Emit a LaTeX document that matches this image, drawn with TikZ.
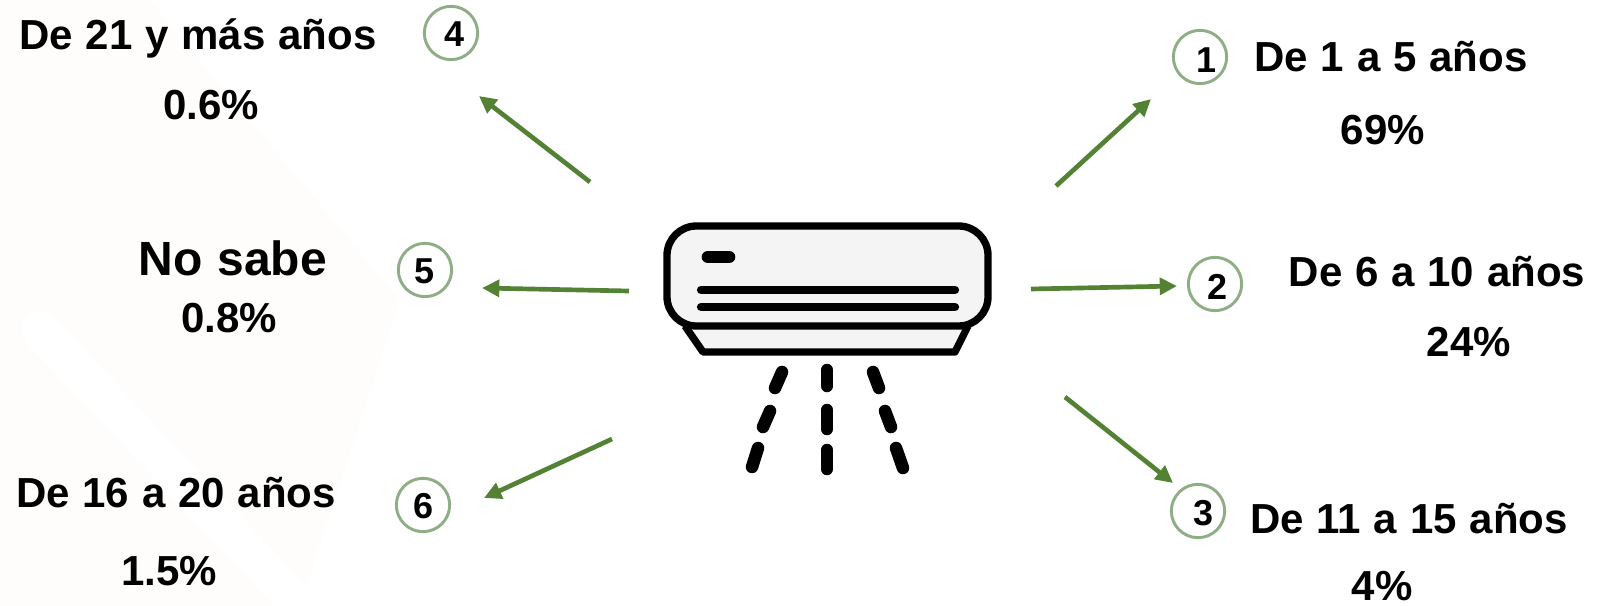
\documentclass[tikz,border=0pt]{standalone}
\usepackage{fontspec}
\setmainfont[WordSpace=1.1]{Liberation Sans}
\usetikzlibrary{arrows.meta}
\definecolor{leafgreen}{HTML}{548235}
\definecolor{ringgreen}{HTML}{8FAE85}
\definecolor{unitgray}{HTML}{F4F4F4}
\definecolor{faintcream}{HTML}{FEFDFB}
\tikzset{
  rangelabel/.style={font=\fontsize{31.5}{34}\selectfont\bfseries, inner sep=0pt, anchor=base},
  bigstyle/.style={font=\fontsize{36}{40}\selectfont\bfseries, inner sep=0pt, anchor=base},
  numring/.style={circle, draw=ringgreen, line width=2.2pt, minimum size=40pt, inner sep=0pt},
  numtext/.style={font=\fontsize{27}{28}\selectfont\bfseries, inner sep=0pt, anchor=base},
  spoke/.style={draw=leafgreen, line width=3.5pt, -{Triangle[length=13pt,width=12.5pt]}},
  unitline/.style={draw=black, line width=5.5pt, line join=round},
  slat/.style={draw=black, line width=6.2pt, line cap=round},
  airflow/.style={draw=black, line width=9.4pt, line cap=round}
}
\begin{document}
\begin{tikzpicture}[x=0.75pt, y=-0.75pt]
  \useasboundingbox (0,0) rectangle (1612,606);

  \fill[faintcream] (0,0) -- (150,0) -- (400,300) -- (300,606) -- (0,606) -- cycle;
  \draw[white, line width=28pt, line cap=round] (40,330) -- (300,606);

  \path[unitline, fill=unitgray] (685,326) -- (703,352) -- (955,352) -- (968,326);
  \path[unitline, fill=unitgray, rounded corners=22pt] (667,226) rectangle (988,326);
  \path[slat, line width=9.5pt] (708,257) -- (729,257);
  \path[slat] (701,290) -- (955,290);
  \path[slat] (701,307) -- (955,307);
  \path[airflow] (782,372) -- (775,388);
  \path[airflow] (770,411) -- (763,427);
  \path[airflow] (758,448) -- (752,467);
  \path[airflow] (827,370) -- (827,386);
  \path[airflow] (827,410) -- (827,429);
  \path[airflow] (827,450) -- (827,469);
  \path[airflow] (873,372) -- (879,388);
  \path[airflow] (885,411) -- (891,427);
  \path[airflow] (896,448) -- (903,468);

  \node[rangelabel] (range4) at (198,50) {De 21 y más años};
  \node[rangelabel] (pct4) at (211,120) {0.6\%};
  \node[bigstyle] (range5) at (233,275) {No sabe};
  \node[rangelabel] (pct5) at (229,332) {0.8\%};
  \node[rangelabel] (range6) at (176,507) {De 16 a 20 años};
  \node[rangelabel] (pct6) at (169,585) {1.5\%};
  \node[rangelabel] (range1) at (1391,72) {De 1 a 5 años};
  \node[rangelabel] (pct1) at (1383,145) {69\%};
  \node[rangelabel] (range2) at (1437,286) {De 6 a 10 años};
  \node[rangelabel] (pct2) at (1469,356) {24\%};
  \node[rangelabel] (range3) at (1409,533) {De 11 a 15 años};
  \node[rangelabel] (pct3) at (1382,600) {4\%};

  \node[numring] (ring1) at (1200,57) {};
  \node[numring] (ring2) at (1215,284) {};
  \node[numring] (ring3) at (1198,511) {};
  \node[numring] (ring4) at (451,33) {};
  \node[numring] (ring5) at (425,270) {};
  \node[numring] (ring6) at (423,505) {};
  \node[numtext] (num1) at (1206,73) {1};
  \node[numtext] (num2) at (1217,299) {2};
  \node[numtext] (num3) at (1203,525) {3};
  \node[numtext] (num4) at (455,47) {4};
  \node[numtext] (num5) at (425,283) {5};
  \node[numtext] (num6) at (424,518) {6};

  \coordinate (from1) at (1056,186);
  \coordinate (to1) at (1151,99);
  \coordinate (from2) at (1031,289);
  \coordinate (to2) at (1177,286);
  \coordinate (from3) at (1065,397);
  \coordinate (to3) at (1173,483);
  \coordinate (from4) at (590,182);
  \coordinate (to4) at (479,96);
  \coordinate (from5) at (629,291);
  \coordinate (to5) at (482,288);
  \coordinate (from6) at (612,439);
  \coordinate (to6) at (484,498);
  \draw[spoke] (from1) -- (to1);
  \draw[spoke] (from2) -- (to2);
  \draw[spoke] (from3) -- (to3);
  \draw[spoke] (from4) -- (to4);
  \draw[spoke] (from5) -- (to5);
  \draw[spoke] (from6) -- (to6);
\end{tikzpicture}
\end{document}
